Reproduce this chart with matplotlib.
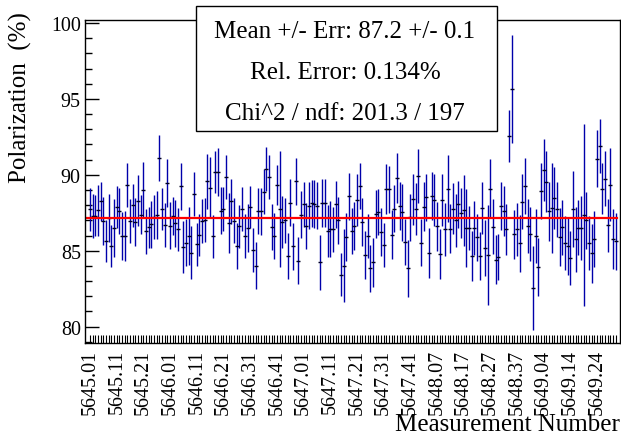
import matplotlib
matplotlib.use("Agg")
import numpy as np
import matplotlib.pyplot as plt
from matplotlib.patches import Rectangle
from matplotlib.ticker import MultipleLocator

plt.rcParams['font.family'] = ['Liberation Serif', 'DejaVu Serif']

polarization = [
    87.72, 87.28, 87.32, 87.65, 88.25, 86.97, 85.65, 87.15, 85.32, 86.49,
    87.87, 87.61, 85.98, 85.94, 89.30, 86.95, 87.98, 86.88, 88.29, 87.37,
    89.02, 86.27, 86.55, 86.73, 87.21, 87.35, 91.11, 87.76, 86.71, 89.46,
    86.66, 87.28, 86.82,
    86.40, 89.26, 85.23, 85.52, 85.98, 84.88, 88.75, 85.41, 86.05, 86.99,
    87.00, 89.57, 89.15, 85.94, 90.18, 90.20, 87.63, 87.76, 89.85, 86.82,
    88.25, 86.99, 85.30, 86.60, 87.74, 85.96, 86.51, 87.87, 85.03, 84.02,
    87.61, 87.61, 88.90,
    90.40, 89.83, 86.58, 85.98, 89.33, 87.76, 86.88, 87.00, 84.66, 88.16,
    85.28, 89.59, 84.35, 87.37, 88.05, 86.62, 87.96, 88.12, 88.09, 87.96,
    84.24, 88.16, 88.14, 86.31, 86.44, 86.40, 88.05, 87.00, 83.43, 84.00,
    85.89, 88.60,
    86.31, 86.62, 88.36, 89.28, 86.90, 84.73, 85.98, 83.85, 84.24, 87.41,
    87.54, 86.22, 85.39, 89.06, 89.04, 86.05, 87.76, 89.81, 87.94, 87.52,
    85.59, 83.85, 87.19, 88.40, 87.76, 89.92, 85.54, 87.90, 88.51, 84.86,
    88.60, 88.34, 86.60,
    84.80, 88.34, 86.40, 89.09, 86.45, 87.77, 87.00, 88.05, 87.50, 87.66,
    86.49,
    86.47, 84.64, 86.49, 85.90, 84.64, 87.81, 85.19, 84.73, 89.09, 86.58,
    84.42, 84.60, 87.94, 87.63, 86.40, 92.56, 95.64, 86.07, 86.40, 85.48,
    88.23, 89.26, 86.62, 86.09, 82.53, 86.00, 83.94, 88.91, 90.34, 89.55,
    87.59, 87.83, 88.49, 87.72, 85.92, 86.53, 85.50, 85.28, 84.53, 87.72,
    85.76, 86.51, 86.49, 87.35, 87.00, 85.52, 84.82, 85.78, 91.07, 91.90,
    89.09, 89.75, 86.67, 89.35, 85.78, 85.63,
]

errors = [
    1.43, 1.43, 1.37, 1.70, 1.30, 1.60, 1.40, 1.60, 1.40, 1.90,
    1.40, 1.50, 1.60, 1.65, 1.45, 1.43, 1.40, 1.60, 1.67, 1.30,
    1.80, 1.50, 1.35, 1.55, 1.43, 1.60, 1.50, 1.40, 1.46, 1.60,
    1.55, 1.27, 1.55,
    1.43, 1.55, 1.70, 1.55, 1.90, 1.75, 1.45, 1.40, 1.40, 1.45,
    1.45, 1.80, 2.00, 1.40, 1.40, 1.60, 1.55, 1.43, 1.43, 1.95,
    1.50, 1.50, 1.50, 1.40, 1.45, 1.43, 1.57, 1.40, 1.45, 1.55,
    1.50, 1.55, 1.50,
    1.45, 1.45, 1.50, 1.50, 1.30, 3.80, 1.70, 1.50, 1.50, 1.55,
    1.55, 1.55, 1.57, 1.55, 1.50, 1.50, 1.55, 1.53, 1.60, 1.55,
    1.80, 1.58, 1.56, 1.70, 1.85, 1.50, 1.55, 1.55, 1.43, 2.40,
    1.60, 1.55,
    1.50, 1.60, 1.70, 1.50, 1.57, 1.60, 1.46, 1.54, 1.60, 1.60,
    1.50, 1.57, 1.43, 1.65, 1.56, 1.60, 1.54, 1.65, 1.56, 1.87,
    1.50, 1.87, 1.57, 1.68, 1.70, 1.80, 1.54, 1.60, 1.57, 1.63,
    1.57, 1.70, 1.60,
    1.65, 1.74, 1.76, 2.20, 1.60, 1.70, 1.76, 1.54, 1.65, 2.36,
    2.55,
    1.45, 1.65, 1.80, 1.55, 1.60, 1.73, 1.84, 3.30, 1.93, 1.80,
    1.60, 1.50, 1.56, 1.65, 1.70, 1.73, 3.57, 1.60, 1.74, 1.85,
    1.80, 1.87, 1.76, 1.80, 2.77, 1.78, 1.93, 1.85, 2.05, 2.00,
    1.95, 2.97, 2.05, 1.84, 1.90, 1.80, 1.80, 1.87, 1.76, 2.50,
    2.15, 1.80, 2.10, 6.00, 1.90, 1.80, 1.93, 1.85, 1.87, 1.80,
    1.70, 1.80, 1.74, 2.40, 2.00, 1.87,
]

# every 10th run gets a label
run_labels = ["5645.01", "5645.11", "5645.21", "5646.01", "5646.11",
              "5646.21", "5646.31", "5646.41", "5647.01", "5647.11",
              "5647.21", "5647.31", "5647.41", "5648.07", "5648.17",
              "5648.27", "5648.37", "5649.04", "5649.14", "5649.24"]

fit_mean = 87.15
stats_lines = ["Mean +/- Err: 87.2 +/- 0.1",
               "Rel. Error: 0.134%",
               "Chi^2 / ndf: 201.3 / 197"]

W, H = 621, 439
fig = plt.figure(figsize=(W / 100, H / 100), dpi=100)
ax = fig.add_axes([85 / W, 1 - 344 / H, 535 / W, 323 / H])

x = np.arange(len(polarization))
ax.errorbar(x, polarization, yerr=errors, fmt='none', ecolor='#0000aa',
            elinewidth=1.0, capsize=0)
ax.plot(x, polarization, ls='none', marker='_', ms=3, mew=1, color='#000022')
ax.plot([-1.9, len(x) - 0.5], [fit_mean, fit_mean], color='red', lw=1.6)

ax.set_xlim(-1.9, 198.6)
ax.set_ylim(78.92, 100.2)

ax.set_xticks(np.arange(0, 10 * len(run_labels), 10), run_labels, rotation=90)
ax.set_xticks(x, minor=True)
ax.tick_params(axis='x', which='both', direction='in', length=5.5, width=0.8,
               labelsize=14.4, pad=4)

ax.set_yticks([80, 85, 90, 95, 100])
ax.yaxis.set_minor_locator(MultipleLocator(1))
ax.tick_params(axis='y', which='major', direction='in', length=10, width=1,
               labelsize=14.4, pad=3)
ax.tick_params(axis='y', which='minor', direction='in', length=5, width=1)
for s in ax.spines.values():
    s.set_linewidth(1)

fig.text(20 / W, 1 - 12 / H, "Polarization  (%)", rotation=90,
         ha='center', va='top', fontsize=18)
fig.text(620 / W, 1 - 431.5 / H, "Measurement Number",
         ha='right', va='baseline', fontsize=18)

# stats box
box = Rectangle((196 / W, 1 - 132 / H), 301 / W, 125 / H,
                transform=fig.transFigure, facecolor='white',
                edgecolor='black', lw=1, zorder=10)
fig.add_artist(box)
for line, base in zip(stats_lines, [37.7, 79, 119.5]):
    fig.text(345 / W, 1 - base / H, line, ha='center', va='baseline',
             fontsize=18, zorder=11)

fig.savefig('out.png', dpi=100)
